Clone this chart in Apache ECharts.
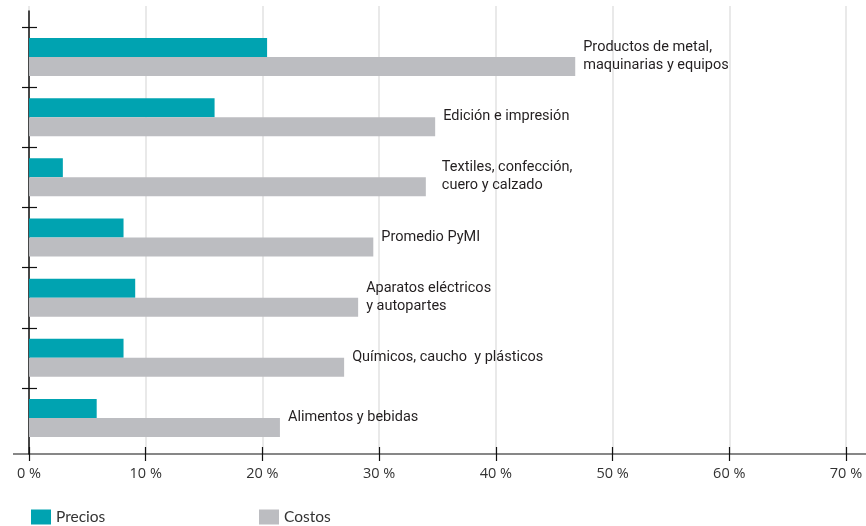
<!DOCTYPE html>
<html>
<head>
<meta charset="utf-8">
<script src="https://cdn.jsdelivr.net/npm/echarts@6/dist/echarts.min.js"></script>
<style>
  html, body { margin: 0; padding: 0; background: #fff; }
  #chart { width: 866px; height: 526px; }
</style>
</head>
<body>
<div id="chart"></div>
<script>
// Sector labels (top to bottom)
const categories = [
  'Productos de metal,\nmaquinarias y equipos',
  'Edición e impresión',
  'Textiles, confección,\ncuero y calzado',
  'Promedio PyMI',
  'Aparatos eléctricos\ny autopartes',
  'Químicos, caucho  y plásticos',
  'Alimentos y bebidas'
];
// Percent values per sector
const precios = [20.4, 15.9, 2.9, 8.1, 9.1, 8.1, 5.8];
const costos  = [46.8, 34.8, 34.0, 29.5, 28.2, 27.0, 21.5];
// Horizontal axis ticks
const xTicks = [0, 10, 20, 30, 40, 50, 60, 70];

const TEAL = '#00a3b1';
const GRAY = '#bcbdc1';
const LABEL_FONT = 'Roboto, "DejaVu Sans Condensed", sans-serif';
const AXIS_FONT = '"Open Sans", Lato, sans-serif';

// the Textiles label sits a little further from its bar
const extraGap = { 2: 8 };

const chart = echarts.init(document.getElementById('chart'), null, { renderer: 'canvas' });

const costosData = costos.map((v, i) => ({
  value: v,
  label: {
    show: true,
    position: 'right',
    distance: 8 + (extraGap[i] || 0),
    offset: [0, -10],
    formatter: () => categories[i],
    fontFamily: LABEL_FONT,
    fontSize: 14.5,
    lineHeight: 18,
    color: '#231f20',
    align: 'left'
  }
}));

chart.setOption({
  animation: false,
  backgroundColor: '#fff',
  grid: [
    // frame: gridlines, axis line, tick labels
    { left: 29, right: 20, top: 6, bottom: 72 },
    // bars
    { left: 29, right: 20, top: 27, bottom: 78 },
    // category boundary ticks
    { left: 29, right: 20, top: 27, bottom: 138 },
    // vertical axis line
    { left: 29, right: 20, top: 11, bottom: 72 }
  ],
  xAxis: [
    {
      gridIndex: 0, type: 'value', min: xTicks[0], max: xTicks[xTicks.length - 1], interval: 10,
      axisLine: { show: false },
      axisTick: { show: false },
      splitLine: { show: true, lineStyle: { color: '#e2e2e2', width: 1.5 } },
      axisLabel: {
        margin: 12, fontFamily: AXIS_FONT, fontSize: 14.5, color: '#333',
        formatter: v => v + ' %'
      }
    },
    {
      gridIndex: 0, type: 'value', min: xTicks[0], max: xTicks[xTicks.length - 1], interval: 10,
      position: 'bottom', offset: -7,
      axisLine: { show: false },
      axisTick: { show: true, length: 14, lineStyle: { color: '#111', width: 1.2 } },
      splitLine: { show: false },
      axisLabel: { show: false }
    },
    { gridIndex: 1, type: 'value', min: 0, max: 70, show: false },
    { gridIndex: 2, type: 'value', min: 0, max: 70, show: false },
    { gridIndex: 3, type: 'value', min: 0, max: 70, show: false }
  ],
  yAxis: [
    {
      gridIndex: 0, type: 'value', min: 0, max: 1, show: false
    },
    {
      gridIndex: 1, type: 'category', data: categories, inverse: true,
      axisLine: { show: false }, axisTick: { show: false },
      axisLabel: { show: false }, splitLine: { show: false }
    },
    {
      gridIndex: 2, type: 'category', data: categories, inverse: true, boundaryGap: false,
      offset: -8,
      axisLine: { show: false },
      axisTick: { show: true, length: 15, lineStyle: { color: '#111', width: 1.2 } },
      axisLabel: { show: false }, splitLine: { show: false }
    },
    {
      gridIndex: 3, type: 'value', min: 0, max: 1,
      axisLine: { show: true, lineStyle: { color: '#111', width: 1.5 } },
      axisTick: { show: false }, axisLabel: { show: false }, splitLine: { show: false }
    }
  ],
  legend: [
    {
      data: ['Precios'], left: 31, top: 509, padding: 0,
      icon: 'rect', itemWidth: 20, itemHeight: 15, itemGap: 5,
      textStyle: { fontFamily: 'Lato, sans-serif', fontSize: 15.5, color: '#333' }
    },
    {
      data: ['Costos'], left: 259, top: 509, padding: 0,
      icon: 'rect', itemWidth: 20, itemHeight: 15, itemGap: 5,
      textStyle: { fontFamily: 'Lato, sans-serif', fontSize: 15.5, color: '#333' }
    }
  ],
  graphic: [
    {
      type: 'line', z: 10,
      shape: { x1: 13, y1: 454, x2: 866, y2: 454 },
      style: { stroke: '#111', lineWidth: 1.2 }
    }
  ],
  series: [
    {
      name: 'Precios', type: 'bar', xAxisIndex: 2, yAxisIndex: 1,
      data: precios, barWidth: 19, barGap: '0%',
      itemStyle: { color: TEAL }
    },
    {
      name: 'Costos', type: 'bar', xAxisIndex: 2, yAxisIndex: 1,
      data: costosData, barWidth: 19, barGap: '0%',
      itemStyle: { color: GRAY }
    }
  ]
});
</script>
</body>
</html>
